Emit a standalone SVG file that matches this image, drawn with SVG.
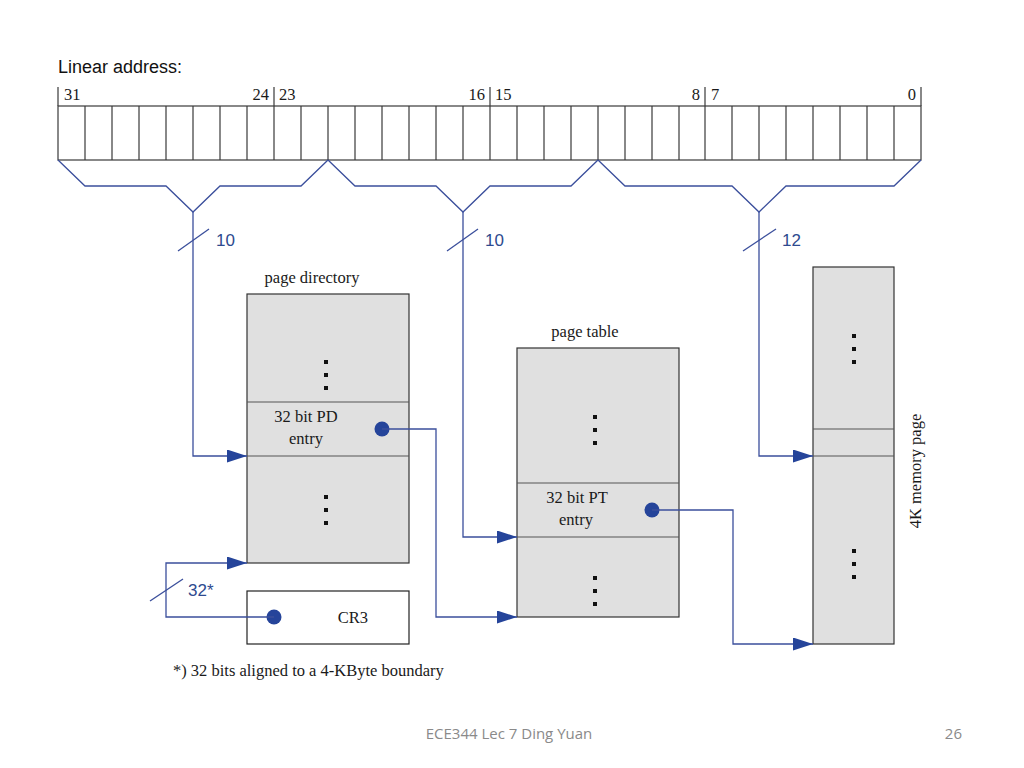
<svg xmlns="http://www.w3.org/2000/svg" width="1024" height="768" viewBox="0 0 1024 768">
<style>
.reg{fill:none;stroke:#3a3a3a;stroke-width:1.2}
.serif{font-family:"Liberation Serif","Times New Roman",serif;fill:#1a1a1a;font-size:16.5px}
.blue{font-family:"Liberation Sans",Arial,sans-serif;fill:#2E4A8F;font-size:17px}
.conn{fill:none;stroke:#3B4F9C;stroke-width:1.3}
.box{fill:#E0E0E0;stroke:#333;stroke-width:1.2}
.div{stroke:#555;stroke-width:1.2}
.dot{fill:#111}
.pin{fill:#25449A}
</style>
<defs>
<marker id="arr" markerUnits="userSpaceOnUse" markerWidth="20" markerHeight="13" refX="20" refY="6.5" orient="auto">
<path d="M0,0 L20,6.5 L0,13 z" fill="#25449A"/>
</marker>
<g id="dots3"><rect x="-2" y="-2" width="4" height="4" class="dot"/><rect x="-2" y="11" width="4" height="4" class="dot"/><rect x="-2" y="24" width="4" height="4" class="dot"/></g>
</defs>
<rect width="1024" height="768" fill="#fff"/>

<g id="register">
<text x="58" y="73" font-family="Liberation Sans,Arial,sans-serif" font-size="18" fill="#111">Linear address:</text>
<rect x="58" y="106" width="863" height="54" class="reg"/>
<path class="reg" d="M85,106V160M112,106V160M139,106V160M166,106V160M193,106V160M220,106V160M247,106V160M274,106V160M301,106V160M328,106V160M355,106V160M382,106V160M409,106V160M436,106V160M463,106V160M490,106V160M517,106V160M544,106V160M571,106V160M598,106V160M625,106V160M652,106V160M679,106V160M705,106V160M732,106V160M759,106V160M786,106V160M813,106V160M840,106V160M867,106V160M894,106V160"/>
<path class="reg" d="M58,87V106M274,87V106M490,87V106M705,87V106M921,87V106"/>
<text class="serif" x="64" y="100">31</text>
<text class="serif" x="269" y="100" text-anchor="end">24</text>
<text class="serif" x="279" y="100">23</text>
<text class="serif" x="485" y="100" text-anchor="end">16</text>
<text class="serif" x="495" y="100">15</text>
<text class="serif" x="700" y="100" text-anchor="end">8</text>
<text class="serif" x="711" y="100">7</text>
<text class="serif" x="916" y="100" text-anchor="end">0</text>
</g>

<g id="braces">
<polyline class="conn" points="58,160 85,186 166,186 193,212 220,186 301,186 328,160"/>
<polyline class="conn" points="328,160 355,186 436,186 463,212 490,186 571,186 598,160"/>
<polyline class="conn" points="598,160 625,186 732,186 759,212 786,186 894,186 921,160"/>
<line class="conn" x1="178" y1="251" x2="209" y2="229"/>
<line class="conn" x1="447" y1="251" x2="478" y2="229"/>
<line class="conn" x1="743" y1="251" x2="776" y2="229"/>
<line class="conn" x1="150" y1="601" x2="183" y2="579"/>
<text class="blue" x="216" y="246">10</text>
<text class="blue" x="485" y="246">10</text>
<text class="blue" x="782" y="246">12</text>
<text class="blue" x="188" y="596">32*</text>
</g>

<g id="page-directory">
<text class="serif" x="312" y="283" text-anchor="middle">page directory</text>
<rect x="247" y="294" width="162" height="269" class="box"/>
<line class="div" x1="247" y1="402" x2="409" y2="402"/>
<line class="div" x1="247" y1="456" x2="409" y2="456"/>
<use href="#dots3" x="326" y="362"/>
<use href="#dots3" x="326" y="497"/>
<text class="serif" x="306" y="422" text-anchor="middle">32 bit PD</text>
<text class="serif" x="306" y="444" text-anchor="middle">entry</text>
<circle cx="382" cy="429" r="7.5" class="pin"/>
</g>

<g id="cr3">
<rect x="247" y="591" width="162" height="53" fill="#fff" stroke="#222" stroke-width="1.2"/>
<text class="serif" x="353" y="623" text-anchor="middle">CR3</text>
<circle cx="274" cy="617" r="7.5" class="pin"/>
</g>

<g id="page-table">
<text class="serif" x="585" y="337" text-anchor="middle">page table</text>
<rect x="517" y="348" width="162" height="269" class="box"/>
<line class="div" x1="517" y1="483" x2="679" y2="483"/>
<line class="div" x1="517" y1="537" x2="679" y2="537"/>
<use href="#dots3" x="595" y="417"/>
<use href="#dots3" x="595" y="578"/>
<text class="serif" x="577" y="503" text-anchor="middle">32 bit PT</text>
<text class="serif" x="576" y="525" text-anchor="middle">entry</text>
<circle cx="652" cy="510" r="7.5" class="pin"/>
</g>

<g id="memory-page">
<rect x="813" y="267" width="81" height="377" class="box"/>
<line class="div" x1="813" y1="429" x2="894" y2="429"/>
<line class="div" x1="813" y1="456" x2="894" y2="456"/>
<use href="#dots3" x="854" y="336"/>
<use href="#dots3" x="854" y="551"/>
<text class="serif" transform="translate(921,471) rotate(-90)" text-anchor="middle">4K memory page</text>
</g>

<g id="connectors">
<path class="conn" d="M193,212V456H247" marker-end="url(#arr)"/>
<path class="conn" d="M463,212V537H517" marker-end="url(#arr)"/>
<path class="conn" d="M759,212V456H813" marker-end="url(#arr)"/>
<path class="conn" d="M382,429H436V617H517" marker-end="url(#arr)"/>
<path class="conn" d="M652,510H733V644H813" marker-end="url(#arr)"/>
<path class="conn" d="M274,617H166V563H247" marker-end="url(#arr)"/>
</g>

<text class="serif" x="173" y="676">*) 32 bits aligned to a 4-KByte boundary</text>
<text x="509" y="739" text-anchor="middle" font-family="Open Sans,Liberation Sans,sans-serif" font-size="15" fill="#8a8a8a">ECE344 Lec 7 Ding Yuan</text>
<text x="962" y="739" text-anchor="end" font-family="Open Sans,Liberation Sans,sans-serif" font-size="15" fill="#8a8a8a">26</text>
</svg>
